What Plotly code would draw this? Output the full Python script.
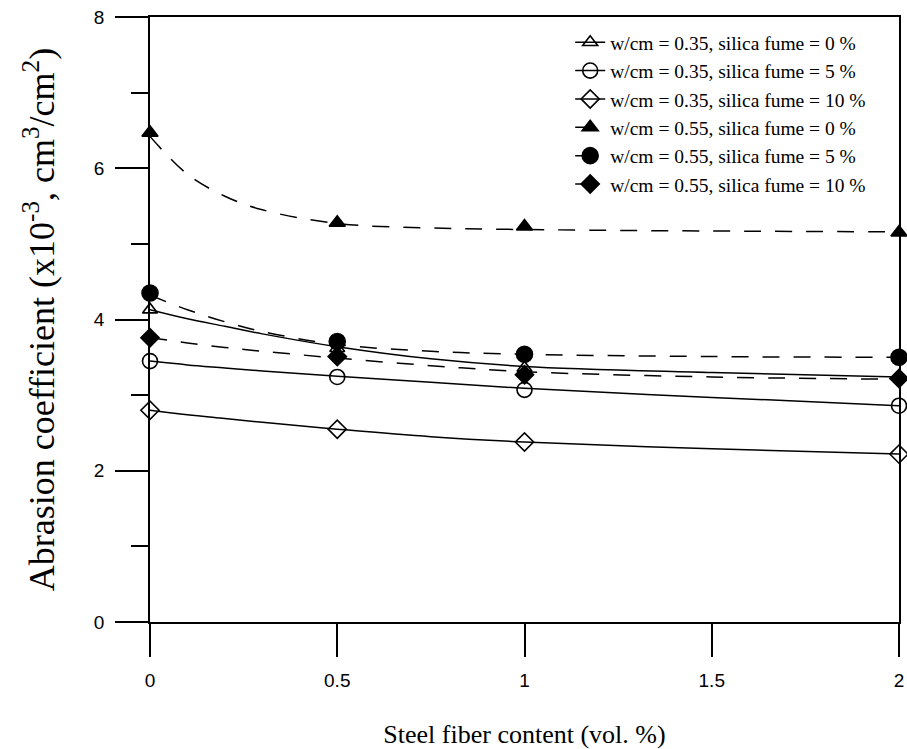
import plotly.graph_objects as go

# ---------------- data ----------------
fiber = [0, 0.5, 1, 2]                       # steel fiber content (vol. %)

names = [
    "w/cm = 0.35, silica fume = 0 %",
    "w/cm = 0.35, silica fume = 5 %",
    "w/cm = 0.35, silica fume = 10 %",
    "w/cm = 0.55, silica fume = 0 %",
    "w/cm = 0.55, silica fume = 5 %",
    "w/cm = 0.55, silica fume = 10 %",
]

# measured abrasion coefficients (x10^-3 cm3/cm2)
wc035_sf0 = [4.13, 3.62, 3.36, 3.25]
wc035_sf5 = [3.45, 3.24, 3.07, 2.86]
wc035_sf10 = [2.80, 2.55, 2.38, 2.22]
wc055_sf0 = [6.47, 5.28, 5.23, 5.15]
wc055_sf5 = [4.35, 3.71, 3.54, 3.50]
wc055_sf10 = [3.76, 3.51, 3.27, 3.22]

# fitted regression curves
fit_x = [0, 0.1, 0.2, 0.3, 0.5, 0.75, 1, 1.5, 2]
fit_035_sf0 = [4.13, 4.01, 3.91, 3.81, 3.64, 3.48, 3.38, 3.30, 3.24]
fit_035_sf5 = [3.45, 3.40, 3.36, 3.32, 3.25, 3.17, 3.09, 2.97, 2.86]
fit_035_sf10 = [2.80, 2.74, 2.69, 2.64, 2.55, 2.45, 2.38, 2.29, 2.22]
fit_055_sf0 = [6.42, 5.92, 5.63, 5.45, 5.27, 5.21, 5.19, 5.17, 5.16]
fit_055_sf5 = [4.32, 4.13, 3.97, 3.84, 3.67, 3.58, 3.54, 3.51, 3.50]
fit_055_sf10 = [3.76, 3.69, 3.63, 3.58, 3.49, 3.39, 3.31, 3.24, 3.21]

x_ticks = [0, 0.5, 1, 1.5, 2]
x_ticklabels = ["0", "0.5", "1", "1.5", "2"]
y_ticks = [0, 2, 4, 6, 8]
y_ticklabels = ["0", "2", "4", "6", "8"]

measured = [wc035_sf0, wc035_sf5, wc035_sf10, wc055_sf0, wc055_sf5, wc055_sf10]
fits = [fit_035_sf0, fit_035_sf5, fit_035_sf10, fit_055_sf0, fit_055_sf5, fit_055_sf10]

# ---------------- styles ----------------
symbols = ["triangle-up-open", "circle-open", "diamond-open",
           "triangle-up", "circle", "diamond"]
sizes = [13, 15, 14, 14, 16, 14]
dashes = ["solid", "solid", "solid", "17px,14px", "17px,14px", "17px,14px"]

fig = go.Figure()

for i in range(6):
    # fitted curve
    fig.add_trace(go.Scatter(
        x=fit_x, y=fits[i], mode="lines",
        line=dict(color="black", width=1.5, dash=dashes[i], shape="spline"),
        showlegend=False, hoverinfo="skip", cliponaxis=False,
    ))
for i in range(6):
    # measured points
    fig.add_trace(go.Scatter(
        x=fiber, y=measured[i], mode="markers", name=names[i],
        marker=dict(symbol=symbols[i], size=sizes[i], color="black",
                    line=dict(color="black", width=1.6)),
        showlegend=False, cliponaxis=False,
    ))
for i in range(6):
    # legend entries (line + marker)
    fig.add_trace(go.Scatter(
        x=[None], y=[None], mode="lines+markers", name=names[i],
        line=dict(color="black", width=1.5, dash=dashes[i]),
        marker=dict(symbol=symbols[i], size=sizes[i], color="black",
                    line=dict(color="black", width=1.6)),
    ))

axis_common = dict(
    showline=True, linecolor="black", linewidth=1.5, mirror=True,
    showgrid=False, zeroline=False, automargin=False,
    ticks="outside", ticklen=33, tickwidth=1.5, tickcolor="black",
    tickfont=dict(family="Liberation Sans, Arial", size=19, color="black"),
    ticklabelstandoff=7,
)

fig.update_xaxes(
    range=[0, 2], tickmode="array", tickvals=x_ticks, ticktext=x_ticklabels,
    title=dict(text="Steel fiber content (vol. %)",
               font=dict(family="Liberation Serif, Times New Roman", size=26, color="black"),
               standoff=36),
    **axis_common,
)
fig.update_yaxes(
    range=[0, 8], tickmode="array", tickvals=y_ticks, ticktext=y_ticklabels,
    minor=dict(dtick=1, ticks="outside", ticklen=17, tickwidth=1.5, tickcolor="black"),
    title=dict(text="Abrasion coefficient (x10<sup>-3</sup>, cm<sup>3</sup>/cm<sup>2</sup>)",
               font=dict(family="Liberation Serif, Times New Roman", size=36, color="black"),
               standoff=28),
    **axis_common,
)

fig.update_layout(
    width=907, height=749,
    margin=dict(l=150, r=8, t=17, b=127),
    plot_bgcolor="white", paper_bgcolor="white",
    legend=dict(
        x=0.561, y=0.99, xanchor="left", yanchor="top",
        font=dict(family="Liberation Serif, Times New Roman", size=19.5, color="black"),
        bgcolor="rgba(0,0,0,0)", borderwidth=0,
        traceorder="normal", tracegroupgap=0,
    ),
)

fig.write_html("out.html")
